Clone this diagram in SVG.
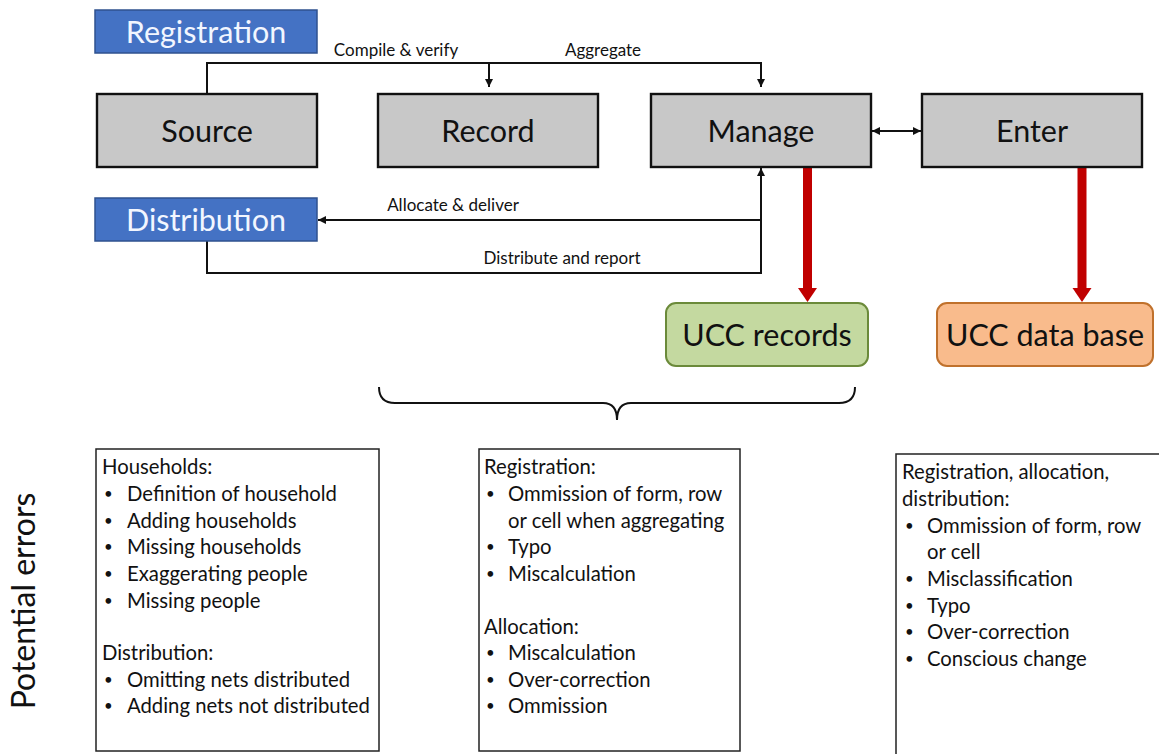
<svg xmlns="http://www.w3.org/2000/svg" width="1159" height="754" viewBox="0 0 1159 754">
<style>
.t{font-family:Lato,"Open Sans",sans-serif;fill:#111}
.big{font-size:30.5px;text-anchor:middle}
.lbl{font-size:17px}
.body{font-size:20.3px}
.b{font-size:15px}
.gray{fill:#c8c8c8;stroke:#111;stroke-width:2.4}
.blue{fill:#4472c4;stroke:#2f528f;stroke-width:1.5}
.wt{fill:#f2f6ff}
.line{fill:none;stroke:#111;stroke-width:2}
.red{fill:#c00000}
.err{fill:#fff;stroke:#222;stroke-width:1.5}
</style>
<defs>
<marker id="ah" viewBox="0 0 10 10" refX="10" refY="5" markerWidth="8" markerHeight="8" orient="auto-start-reverse" markerUnits="userSpaceOnUse">
<path d="M0,0 L10,5 L0,10 z" fill="#111"/>
</marker>
</defs>
<rect width="1159" height="754" fill="#fff"/>

<g id="connectors">
<path class="line" d="M207,94 V63 H761 V87" marker-end="url(#ah)"/>
<path class="line" d="M489,63 V87" marker-end="url(#ah)"/>
<path class="line" d="M872,131 H921" marker-start="url(#ah)" marker-end="url(#ah)"/>
<path class="line" d="M761,220 H318" marker-end="url(#ah)"/>
<path class="line" d="M207,241 V273 H761 V168" marker-end="url(#ah)"/>
<text class="t lbl" x="396" y="56" text-anchor="middle">Compile &amp; verify</text>
<text class="t lbl" x="603" y="56" text-anchor="middle">Aggregate</text>
<text class="t lbl" x="453" y="211" text-anchor="middle">Allocate &amp; deliver</text>
<text class="t lbl" x="562" y="264" text-anchor="middle">Distribute and report</text>
<g id="red-arrows">
<rect class="red" x="803" y="168" width="9" height="120"/>
<polygon class="red" points="798,288 817,288 807.5,302"/>
<rect class="red" x="1077.5" y="168" width="9" height="120"/>
<polygon class="red" points="1072.5,288 1091.5,288 1082,302"/>
</g>
<path class="line" d="M379,387 Q379,403 395,403 H603 Q617,403 617,420 Q617,403 631,403 H839 Q855,403 855,387"/>
</g>

<g id="registration">
<rect class="blue" x="95" y="10" width="222" height="43"/>
<text class="t big wt" x="206" y="43">Registration</text>
</g>
<g id="distribution">
<rect class="blue" x="95" y="198" width="222" height="43"/>
<text class="t big wt" x="206" y="231">Distribution</text>
</g>
<g id="source">
<rect class="gray" x="97" y="94" width="220" height="73"/>
<text class="t big" x="207" y="142">Source</text>
</g>
<g id="record">
<rect class="gray" x="378" y="94" width="220" height="73"/>
<text class="t big" x="488" y="142">Record</text>
</g>
<g id="manage">
<rect class="gray" x="651" y="94" width="220" height="73"/>
<text class="t big" x="761" y="142">Manage</text>
</g>
<g id="enter">
<rect class="gray" x="922" y="94" width="220" height="73"/>
<text class="t big" x="1032" y="142">Enter</text>
</g>
<g id="ucc-records">
<rect x="666" y="303" width="202" height="63" rx="10" fill="#c4d9a0" stroke="#6b8a3a" stroke-width="2"/>
<text class="t big" x="767" y="346">UCC records</text>
</g>
<g id="ucc-database">
<rect x="937" y="303" width="216" height="63" rx="10" fill="#f9bb8c" stroke="#c0712c" stroke-width="2"/>
<text class="t big" x="1045" y="346">UCC data base</text>
</g>

<g id="potential-errors-label">
<text class="t" font-size="32" text-anchor="middle" transform="translate(35,601) rotate(-90)">Potential errors</text>
</g>

<g id="errors-1">
<rect class="err" x="96" y="449" width="283" height="302"/>
<text class="t body" x="102" y="474">Households:</text>
<g class="t body">
<text class="b" x="104" y="499">•</text><text x="127" y="501">Definition of household</text>
<text class="b" x="104" y="526">•</text><text x="127" y="528">Adding households</text>
<text class="b" x="104" y="552">•</text><text x="127" y="554">Missing households</text>
<text class="b" x="104" y="579">•</text><text x="127" y="581">Exaggerating people</text>
<text class="b" x="104" y="606">•</text><text x="127" y="608">Missing people</text>
</g>
<text class="t body" x="102" y="660">Distribution:</text>
<g class="t body">
<text class="b" x="104" y="685">•</text><text x="127" y="687">Omitting nets distributed</text>
<text class="b" x="104" y="711">•</text><text x="127" y="713">Adding nets not distributed</text>
</g>
</g>

<g id="errors-2">
<rect class="err" x="479" y="449" width="261" height="302"/>
<text class="t body" x="484" y="474">Registration:</text>
<g class="t body">
<text class="b" x="486" y="499">•</text><text x="508" y="501">Ommission of form, row</text>
<text x="508" y="528">or cell when aggregating</text>
<text class="b" x="486" y="552">•</text><text x="508" y="554">Typo</text>
<text class="b" x="486" y="579">•</text><text x="508" y="581">Miscalculation</text>
</g>
<text class="t body" x="484" y="634">Allocation:</text>
<g class="t body">
<text class="b" x="486" y="658">•</text><text x="508" y="660">Miscalculation</text>
<text class="b" x="486" y="685">•</text><text x="508" y="687">Over-correction</text>
<text class="b" x="486" y="711">•</text><text x="508" y="713">Ommission</text>
</g>
</g>

<g id="errors-3">
<rect class="err" x="896" y="454" width="275" height="310"/>
<text class="t body" x="902" y="479">Registration, allocation,</text>
<text class="t body" x="902" y="506">distribution:</text>
<g class="t body">
<text class="b" x="905" y="531">•</text><text x="927" y="533">Ommission of form, row</text>
<text x="927" y="559">or cell</text>
<text class="b" x="905" y="584">•</text><text x="927" y="586">Misclassification</text>
<text class="b" x="905" y="611">•</text><text x="927" y="613">Typo</text>
<text class="b" x="905" y="637">•</text><text x="927" y="639">Over-correction</text>
<text class="b" x="905" y="664">•</text><text x="927" y="666">Conscious change</text>
</g>
</g>
</svg>
